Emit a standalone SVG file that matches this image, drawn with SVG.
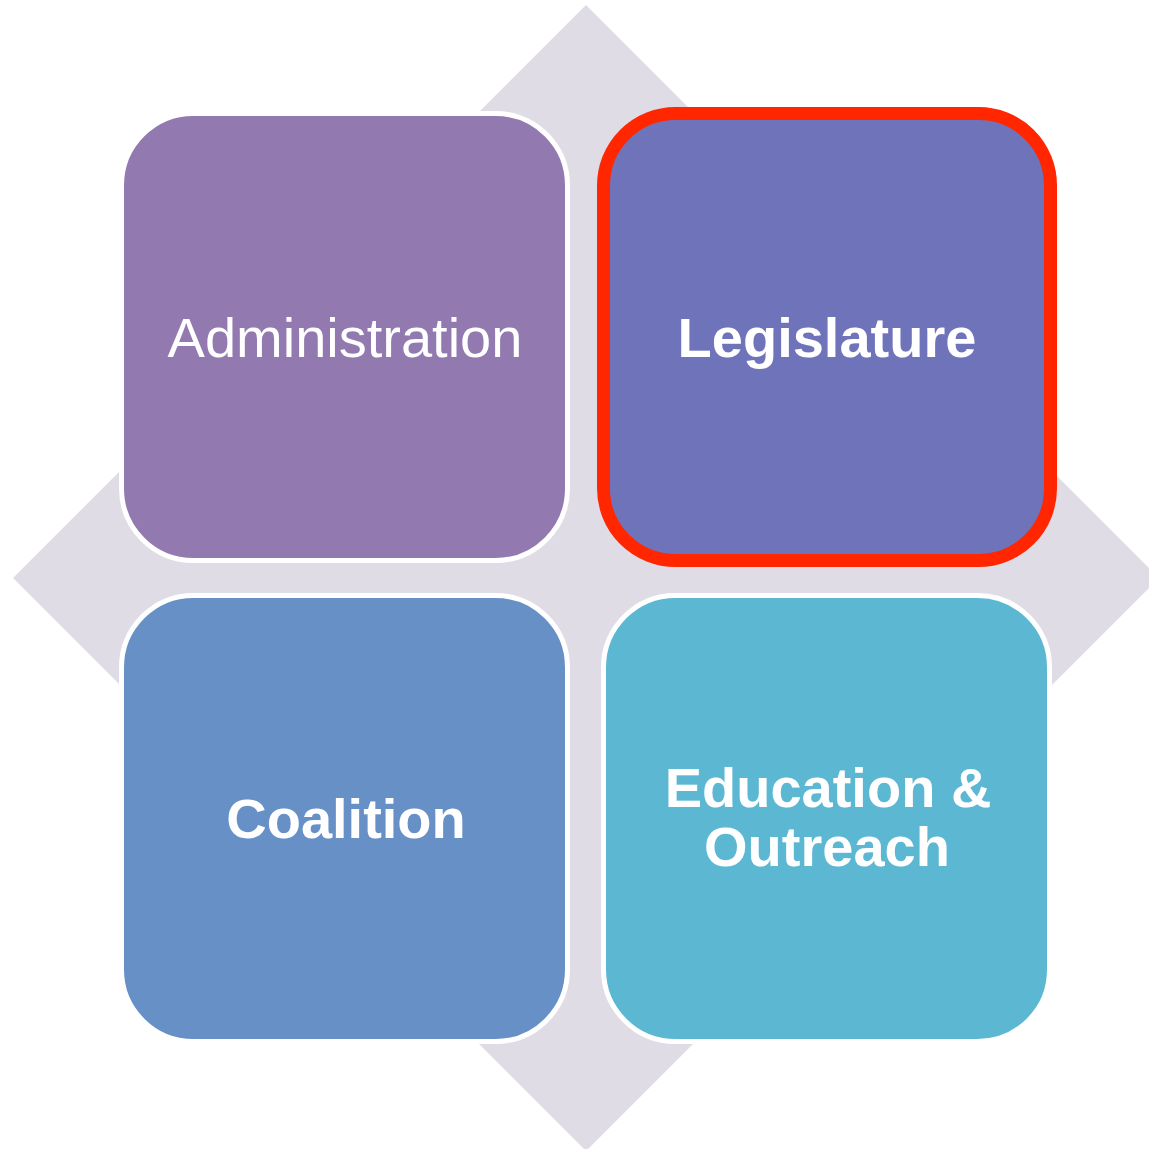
<svg xmlns="http://www.w3.org/2000/svg" width="1149" height="1149" viewBox="0 0 1149 1149">
<style>
.box{stroke:#FFFFFF;stroke-width:5}
.lbl{font-family:"Liberation Sans",Arial,sans-serif;font-size:56px;fill:#FFFFFF;text-anchor:middle}
.b{font-weight:bold}
</style>
<rect width="1149" height="1149" fill="#FFFFFF"/>
<g id="background">
<polygon points="586,5 1159,578 586,1151 13,578" fill="#DFDCE6"/>
</g>
<g id="connectors"></g>
<g id="administration">
<rect class="box" x="121.5" y="113.5" width="446" height="447" rx="72" ry="72" fill="#927AB0"/>
<text class="lbl" x="345" y="357">Administration</text>
</g>
<g id="legislature">
<rect x="603.5" y="113.5" width="447" height="447" rx="72" ry="72" fill="#6F73BA" stroke="#FF2600" stroke-width="13"/>
<text class="lbl b" x="827" y="357">Legislature</text>
</g>
<g id="coalition">
<rect class="box" x="121.5" y="595.5" width="446" height="446" rx="72" ry="72" fill="#6690C6"/>
<text class="lbl b" x="346" y="838">Coalition</text>
</g>
<g id="education">
<rect class="box" x="603.5" y="595.5" width="446" height="446" rx="72" ry="72" fill="#5CB8D2"/>
<text class="lbl b" x="828" y="807">Education &amp;</text>
<text class="lbl b" x="827" y="866">Outreach</text>
</g>
</svg>
